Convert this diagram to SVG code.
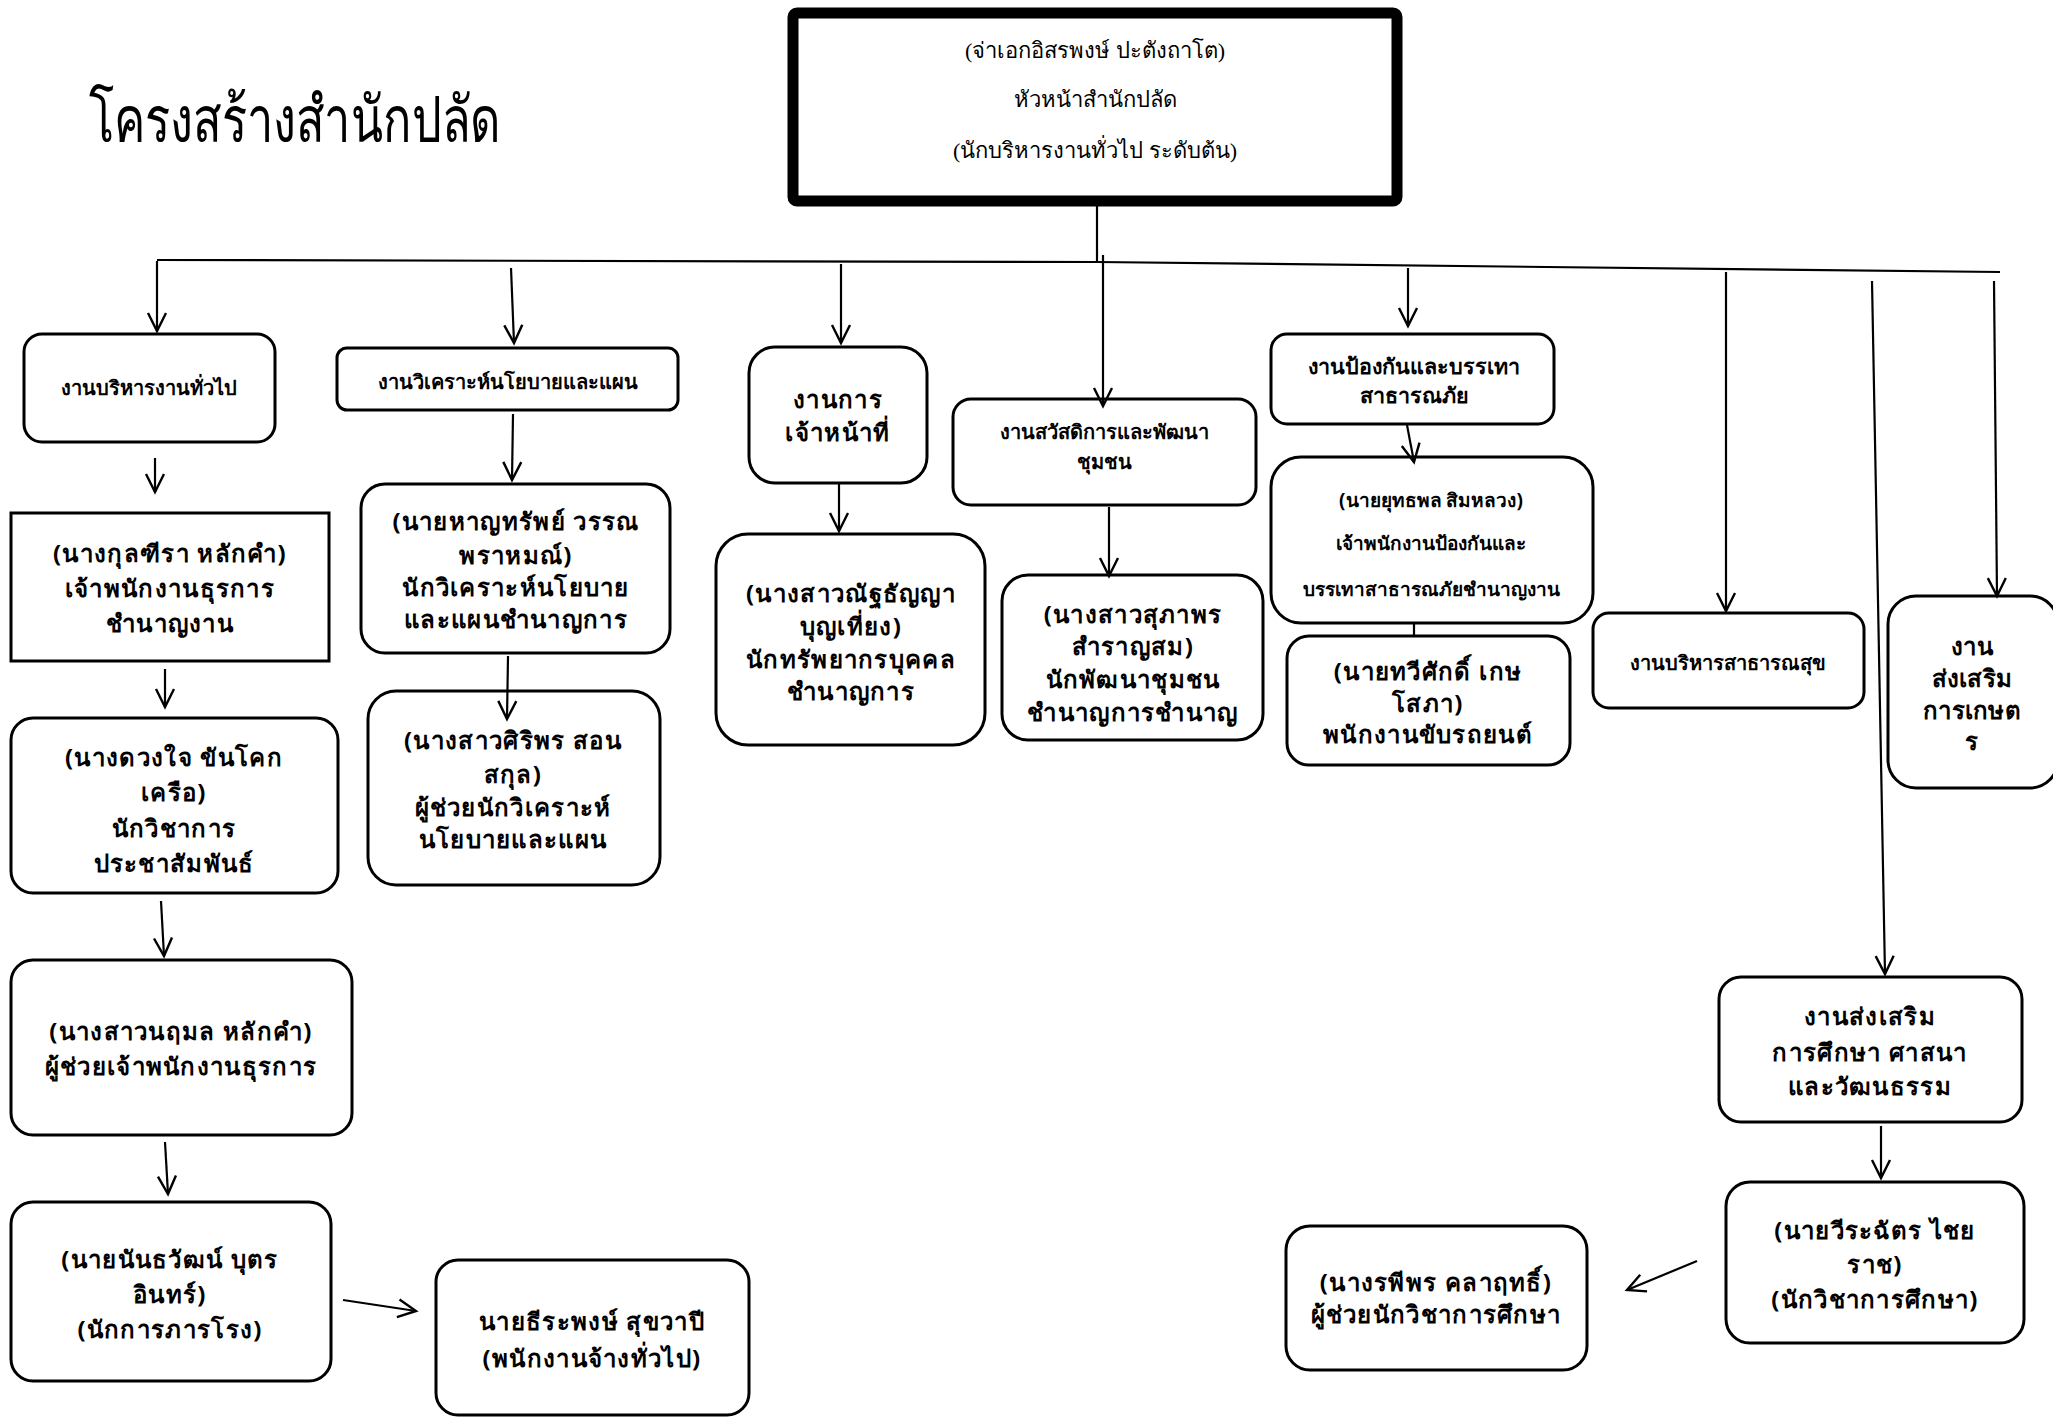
<svg xmlns="http://www.w3.org/2000/svg" width="2053" height="1417" viewBox="0 0 2053 1417">
<style>
.bx{fill:#fff;stroke:#000;stroke-width:3}
.t{font-family:"Noto Sans","DejaVu Sans",sans-serif;font-size:24px;font-weight:bold;letter-spacing:1.3px;text-anchor:middle;fill:#000}
.s{font-size:20px;letter-spacing:0}
.a{letter-spacing:0.3px}
.ser{font-family:"Liberation Serif","DejaVu Serif",serif;font-size:22px;text-anchor:middle;fill:#000}
.c{fill:none;stroke:#000;stroke-width:2.2}
</style>
<defs>
<marker id="ah" markerUnits="userSpaceOnUse" markerWidth="24" markerHeight="24" viewBox="0 0 24 24" refX="20" refY="12" orient="auto">
<path d="M2,3 L20,12 L2,21" fill="none" stroke="#000" stroke-width="2.4"/>
</marker>
</defs>
<rect width="2053" height="1417" fill="#fff"/>
<text x="89" y="142" font-family="Liberation Serif,serif" font-size="64" fill="#000" textLength="412" lengthAdjust="spacingAndGlyphs">โครงสร้างสำนักปลัด</text>

<g id="head">
<rect x="793" y="13" width="604" height="188" rx="4" fill="#fff" stroke="#000" stroke-width="11"/>
<text class="ser" x="1095" y="58">(จ่าเอกอิสรพงษ์ ปะตังถาโต)</text>
<text class="ser" x="1095" y="107">หัวหน้าสำนักปลัด</text>
<text class="ser" x="1095" y="158">(นักบริหารงานทั่วไป ระดับต้น)</text>
</g>

<g id="n-admin">
<rect class="bx" x="24" y="334" width="251" height="108" rx="18"/>
<text class="t s" x="149" y="395">งานบริหารงานทั่วไป</text>
</g>
<g id="n-kulthira">
<rect class="bx" x="11" y="513" width="318" height="148"/>
<text class="t" x="170" y="562">(นางกุลฑีรา หลักคำ)</text>
<text class="t" x="170" y="597">เจ้าพนักงานธุรการ</text>
<text class="t" x="170" y="632">ชำนาญงาน</text>
</g>
<g id="n-duangjai">
<rect class="bx" x="11" y="718" width="327" height="175" rx="22"/>
<text class="t" x="174" y="766">(นางดวงใจ ขันโคก</text>
<text class="t" x="174" y="801">เครือ)</text>
<text class="t" x="174" y="837">นักวิชาการ</text>
<text class="t" x="174" y="872">ประชาสัมพันธ์</text>
</g>
<g id="n-narumon">
<rect class="bx" x="11" y="960" width="341" height="175" rx="22"/>
<text class="t" x="181" y="1040">(นางสาวนฤมล หลักคำ)</text>
<text class="t" x="181" y="1075">ผู้ช่วยเจ้าพนักงานธุรการ</text>
</g>
<g id="n-nanthawat">
<rect class="bx" x="11" y="1202" width="320" height="179" rx="22"/>
<text class="t" x="170" y="1268">(นายนันธวัฒน์ บุตร</text>
<text class="t" x="170" y="1303">อินทร์)</text>
<text class="t" x="170" y="1338">(นักการภารโรง)</text>
</g>
<g id="n-theerapong">
<rect class="bx" x="436" y="1260" width="313" height="155" rx="22"/>
<text class="t" x="592" y="1330">นายธีระพงษ์ สุขวาปี</text>
<text class="t" x="592" y="1367">(พนักงานจ้างทั่วไป)</text>
</g>

<g id="n-plan">
<rect class="bx" x="337" y="348" width="341" height="62" rx="10"/>
<text class="t s" x="508" y="389">งานวิเคราะห์นโยบายและแผน</text>
</g>
<g id="n-hansap">
<rect class="bx" x="361" y="484" width="309" height="169" rx="24"/>
<text class="t" x="516" y="530">(นายหาญทรัพย์ วรรณ</text>
<text class="t" x="516" y="564">พราหมณ์)</text>
<text class="t" x="516" y="596">นักวิเคราะห์นโยบาย</text>
<text class="t" x="516" y="628">และแผนชำนาญการ</text>
</g>
<g id="n-siriporn">
<rect class="bx" x="368" y="691" width="292" height="194" rx="28"/>
<text class="t" x="513" y="749">(นางสาวศิริพร สอน</text>
<text class="t" x="513" y="783">สกุล)</text>
<text class="t" x="513" y="816">ผู้ช่วยนักวิเคราะห์</text>
<text class="t" x="513" y="848">นโยบายและแผน</text>
</g>

<g id="n-personnel">
<rect class="bx" x="749" y="347" width="178" height="136" rx="26"/>
<text class="t" x="838" y="408">งานการ</text>
<text class="t" x="838" y="441">เจ้าหน้าที่</text>
</g>
<g id="n-nattanya">
<rect class="bx" x="716" y="534" width="269" height="211" rx="32"/>
<text class="t" x="851" y="602">(นางสาวณัฐธัญญา</text>
<text class="t" x="851" y="635">บุญเที่ยง)</text>
<text class="t" x="851" y="668">นักทรัพยากรบุคคล</text>
<text class="t" x="851" y="700">ชำนาญการ</text>
</g>

<g id="n-welfare">
<rect class="bx" x="953" y="399" width="303" height="106" rx="18"/>
<text class="t s" x="1104" y="439">งานสวัสดิการและพัฒนา</text>
<text class="t s" x="1104" y="469">ชุมชน</text>
</g>
<g id="n-supaporn">
<rect class="bx" x="1002" y="575" width="261" height="165" rx="26"/>
<text class="t" x="1133" y="623">(นางสาวสุภาพร</text>
<text class="t" x="1133" y="655">สำราญสม)</text>
<text class="t" x="1133" y="688">นักพัฒนาชุมชน</text>
<text class="t" x="1133" y="721">ชำนาญการชำนาญ</text>
</g>

<g id="n-disaster">
<rect class="bx" x="1271" y="334" width="283" height="90" rx="16"/>
<text class="t s" x="1414" y="374" style="font-size:21.5px">งานป้องกันและบรรเทา</text>
<text class="t s" x="1414" y="403" style="font-size:21.5px">สาธารณภัย</text>
</g>
<g id="n-yutthaphon">
<rect class="bx" x="1271" y="457" width="322" height="166" rx="30"/>
<text class="t s" x="1431" y="507" style="font-size:19px">(นายยุทธพล สิมหลวง)</text>
<text class="t s" x="1431" y="550" style="font-size:19px">เจ้าพนักงานป้องกันและ</text>
<text class="t s" x="1431" y="596" style="font-size:19px">บรรเทาสาธารณภัยชำนาญงาน</text>
</g>
<g id="n-thawisak">
<rect class="bx" x="1287" y="636" width="283" height="129" rx="22"/>
<text class="t" x="1428" y="680">(นายทวีศักดิ์ เกษ</text>
<text class="t" x="1428" y="712">โสภา)</text>
<text class="t" x="1428" y="743">พนักงานขับรถยนต์</text>
</g>

<g id="n-health">
<rect class="bx" x="1593" y="613" width="271" height="95" rx="16"/>
<text class="t s" x="1728" y="670">งานบริหารสาธารณสุข</text>
</g>
<g id="n-agri">
<rect class="bx" x="1888" y="596" width="170" height="192" rx="28"/>
<text class="t a" x="1972" y="655">งาน</text>
<text class="t a" x="1972" y="687">ส่งเสริม</text>
<text class="t a" x="1972" y="719">การเกษต</text>
<text class="t a" x="1972" y="750">ร</text>
</g>

<g id="n-education">
<rect class="bx" x="1719" y="977" width="303" height="145" rx="22"/>
<text class="t" x="1870" y="1025">งานส่งเสริม</text>
<text class="t" x="1870" y="1061">การศึกษา ศาสนา</text>
<text class="t" x="1870" y="1095">และวัฒนธรรม</text>
</g>
<g id="n-weerachat">
<rect class="bx" x="1726" y="1182" width="298" height="161" rx="24"/>
<text class="t" x="1875" y="1239">(นายวีระฉัตร ไชย</text>
<text class="t" x="1875" y="1273">ราช)</text>
<text class="t" x="1875" y="1308">(นักวิชาการศึกษา)</text>
</g>
<g id="n-rapeeporn">
<rect class="bx" x="1286" y="1226" width="301" height="144" rx="24"/>
<text class="t" x="1436" y="1291">(นางรพีพร คลาฤทธิ์)</text>
<text class="t" x="1436" y="1323">ผู้ช่วยนักวิชาการศึกษา</text>
</g>

<g id="connectors">
<path class="c" d="M1097,206 V262"/>
<path class="c" d="M157,260 L1097,262 L2000,272"/>
<path class="c" d="M157,261 V331" marker-end="url(#ah)"/>
<path class="c" d="M511,268 L514,343" marker-end="url(#ah)"/>
<path class="c" d="M841,264 V343" marker-end="url(#ah)"/>
<path class="c" d="M1103,255 V406" marker-end="url(#ah)"/>
<path class="c" d="M1408,268 V326" marker-end="url(#ah)"/>
<path class="c" d="M1726,272 V611" marker-end="url(#ah)"/>
<path class="c" d="M1872,281 L1885,974" marker-end="url(#ah)"/>
<path class="c" d="M1994,281 L1997,596" marker-end="url(#ah)"/>
<path class="c" d="M155,458 V492" marker-end="url(#ah)"/>
<path class="c" d="M165,669 V707" marker-end="url(#ah)"/>
<path class="c" d="M161,901 L164,956" marker-end="url(#ah)"/>
<path class="c" d="M165,1142 L168,1194" marker-end="url(#ah)"/>
<path class="c" d="M343,1300 L416,1311" marker-end="url(#ah)"/>
<path class="c" d="M513,414 L512,480" marker-end="url(#ah)"/>
<path class="c" d="M508,656 L507,719" marker-end="url(#ah)"/>
<path class="c" d="M839,484 V531" marker-end="url(#ah)"/>
<path class="c" d="M1109,507 V576" marker-end="url(#ah)"/>
<path class="c" d="M1407,425 L1414,462" marker-end="url(#ah)"/>
<path class="c" d="M1414,623 V636"/>
<path class="c" d="M1881,1126 V1178" marker-end="url(#ah)"/>
<path class="c" d="M1697,1261 L1627,1290" marker-end="url(#ah)"/>
</g>
</svg>
